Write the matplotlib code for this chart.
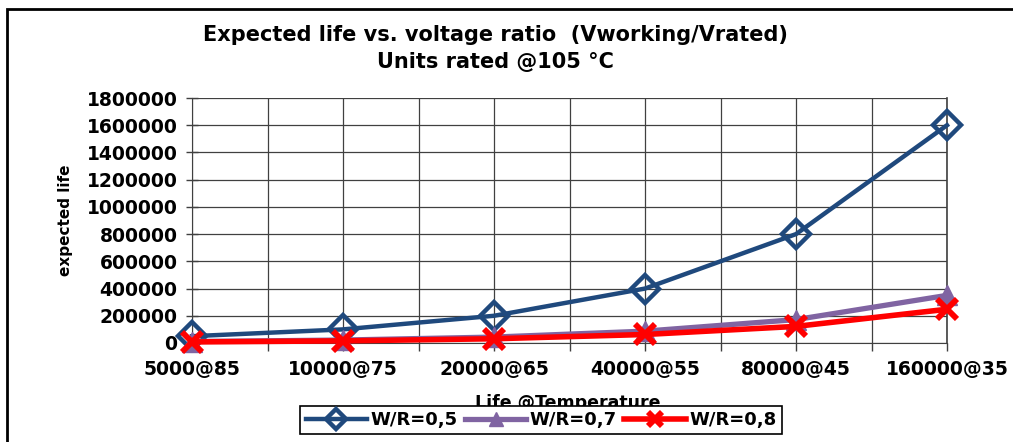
import numpy as np
import matplotlib.pyplot as plt
from matplotlib.patches import Rectangle
from matplotlib.ticker import MultipleLocator, FixedLocator

# datos
categorias = ['5000@85', '10000@75', '20000@65', '40000@55', '80000@45', '160000@35']
vida_05 = [50000, 100000, 200000, 400000, 800000, 1600000]
vida_07 = [10900, 21800, 43600, 87200, 172000, 350000]
vida_08 = [7800, 15600, 31200, 62500, 122000, 248000]
etiquetas = ['W/R=0,5', 'W/R=0,7', 'W/R=0,8']

fig = plt.figure(figsize=(10.13, 4.42), dpi=100)
# marco exterior del grafico
fig.patches.append(Rectangle((7 / 1013, -0.05), 1.1, 1 - 9 / 442 + 0.05,
                             transform=fig.transFigure, fill=False,
                             edgecolor='black', linewidth=2))

ax = fig.add_axes([192 / 1013, 1 - 343 / 442, (947 - 192) / 1013, (343 - 98) / 442])
x = np.arange(len(categorias))

ax.plot(x, vida_05, color='#1F497D', linewidth=3.2, marker='D', markersize=14,
        markerfacecolor='none', markeredgewidth=3.2, label=etiquetas[0], zorder=3,
        clip_on=False)
ax.plot(x, vida_07, color='#8064A2', linewidth=3.8, marker='^', markersize=15,
        markeredgewidth=1, label=etiquetas[1], zorder=4, clip_on=False)
ax.plot(x, vida_08, color='#FF0000', linewidth=4, marker='x', markersize=14,
        markeredgewidth=4.2, label=etiquetas[2], zorder=5, clip_on=False)

ax.set_xlim(0, len(categorias) - 1)
ax.set_ylim(0, 1800000)
ax.yaxis.set_major_locator(MultipleLocator(200000))
ax.xaxis.set_major_locator(FixedLocator(x))
ax.xaxis.set_minor_locator(FixedLocator(x[:-1] + 0.5))
ax.set_xticklabels(categorias)
ax.ticklabel_format(axis='y', style='plain', useOffset=False)

ax.grid(True, which='major', color='#404040', linewidth=0.9)
ax.grid(True, which='minor', axis='x', color='#404040', linewidth=0.9)
ax.spines['top'].set_visible(False)
for s in ['left', 'bottom', 'right']:
    ax.spines[s].set_color('#404040')
ax.spines['right'].set_linewidth(1.2)
ax.tick_params(axis='y', direction='inout', length=9, width=1, color='#404040', pad=6)
ax.tick_params(axis='x', which='both', direction='out', length=6, width=1,
               color='#404040', pad=6)

for lab in ax.get_xticklabels() + ax.get_yticklabels():
    lab.set_fontsize(13.5)
    lab.set_fontweight('bold')

ax.set_ylabel('expected life', fontsize=11, fontweight='bold', labelpad=10)
ax.set_xlabel('Life @Temperature', fontsize=12.5, fontweight='bold')
ax.xaxis.set_label_coords((568 - 192) / (947 - 192), -0.21)

fig.text(495 / 1013, 1 - 35 / 442, 'Expected life vs. voltage ratio  (Vworking/Vrated)',
         ha='center', va='center', fontsize=15, fontweight='heavy')
fig.text(495 / 1013, 1 - 62 / 442, 'Units rated @105 °C',
         ha='center', va='center', fontsize=15, fontweight='heavy')

leg = fig.legend(loc='center', bbox_to_anchor=(541 / 1013, 1 - 420 / 442), ncol=3,
                 fancybox=False, edgecolor='black', framealpha=1,
                 prop={'weight': 'bold', 'size': 13}, handlelength=3.4,
                 handletextpad=0.2, columnspacing=0.4, borderpad=0.3, markerscale=0.7)
leg.get_frame().set_linewidth(1.2)

plt.savefig('out.png', dpi=100)
plt.close(fig)
